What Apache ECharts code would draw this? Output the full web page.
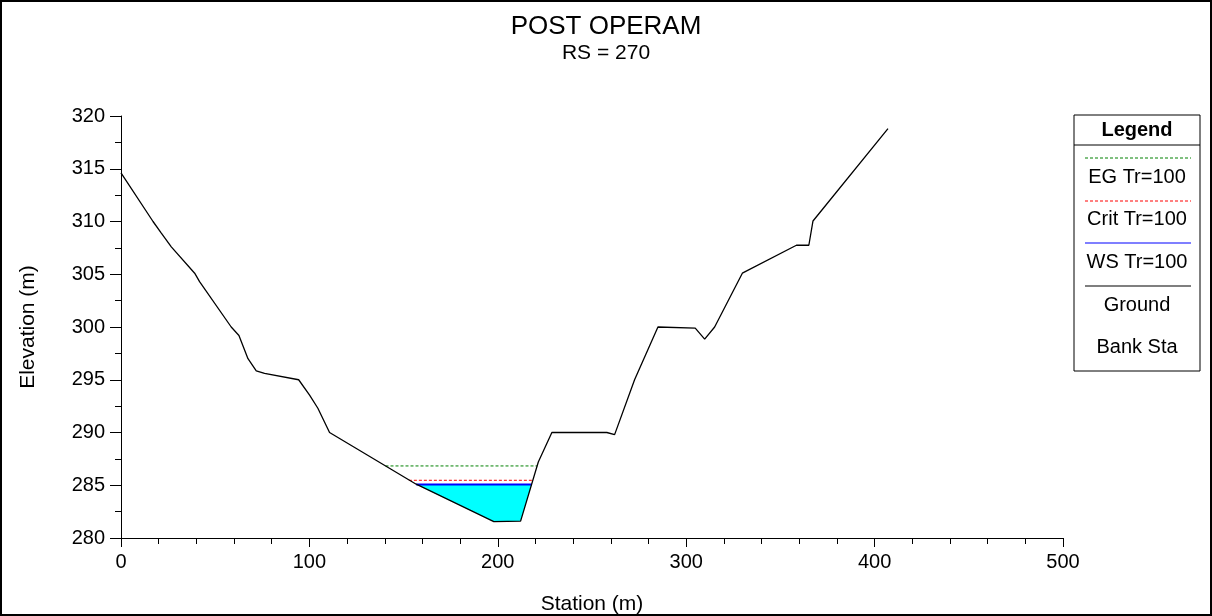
<!DOCTYPE html>
<html>
<head>
<meta charset="utf-8">
<script src="https://cdn.jsdelivr.net/npm/echarts@6/dist/echarts.min.js"></script>
<style>html,body{margin:0;padding:0;background:#fff}#c{width:1212px;height:616px}</style>
</head>
<body>
<div id="c"></div>
<script>
// Ground profile [station, elevation]
const groundStation = [0, 17, 21.4, 26.7, 39.1, 41.7, 58.5, 62.6, 67.4, 71.8, 76.2, 94.3, 100.1, 104.5, 110.7, 156.7, 197.9, 212.1, 221.5, 228.7, 257.9, 262.0, 272.6, 285.0, 304.8, 309.8, 315.1, 329.8, 358.5, 365.1, 367.3, 407.1];
const groundElev    = [314.6, 310.0, 308.9, 307.6, 305.1, 304.3, 300.0, 299.2, 297.0, 295.85, 295.6, 295.0, 293.55, 292.3, 290.0, 285.1, 281.55, 281.6, 287.2, 290.0, 290.0, 289.8, 295.0, 300.0, 299.9, 298.85, 300.0, 305.1, 307.75, 307.75, 310.05, 318.8];
// Water levels
const egLevel = 286.83, egStations = [140.4, 221.0];
const critLevel = 285.47, critStations = [152.8, 218.5];
const wsLevel = 285.06, wsStations = [156.7, 218.0];
// Wetted section (ground below WS)
const waterStation = [156.7, 197.9, 212.1, 218.0];
const waterElev    = [285.06, 281.55, 281.6, 285.06];

const xTicks = {min: 0, max: 500, interval: 100, minorSplit: 5};
const yTicks = {min: 280, max: 320, interval: 5, minorSplit: 2};

const legendItems = ['EG Tr=100', 'Crit Tr=100', 'WS Tr=100', 'Ground', 'Bank Sta'];

const zip = (a, b) => a.map((v, i) => [v, b[i]]);
const FONT = '"Liberation Sans", Arial, sans-serif';

const chart = echarts.init(document.getElementById('c'), null, {renderer: 'canvas'});
const legendLeft = 1074, legendRight = 1200;
const txt = (y, t, bold) => ({type: 'text', x: 1137, y: y, style: {text: t, font: (bold ? 'bold ' : '') + '20px ' + FONT, fill: '#000', align: 'center', verticalAlign: 'middle'}});
const legGraphics = [
  {type: 'rect', shape: {x: legendLeft, y: 115, width: legendRight - legendLeft, height: 256}, style: {fill: '#fff', stroke: '#000', lineWidth: 1}},
  txt(130, 'Legend', true),
  {type: 'line', shape: {x1: legendLeft, y1: 145, x2: legendRight, y2: 145}, style: {stroke: '#000', lineWidth: 1}},
  {type: 'line', shape: {x1: 1085, y1: 158, x2: 1191, y2: 158}, style: {stroke: '#008000', lineWidth: 1, lineDash: [3, 2]}},
  txt(177, legendItems[0]),
  {type: 'line', shape: {x1: 1085, y1: 201, x2: 1191, y2: 201}, style: {stroke: '#ff0000', lineWidth: 1, lineDash: [3, 2]}},
  txt(219, legendItems[1]),
  {type: 'line', shape: {x1: 1085, y1: 243, x2: 1191, y2: 243}, style: {stroke: '#0000ff', lineWidth: 1.2}},
  txt(262, legendItems[2]),
  {type: 'line', shape: {x1: 1085, y1: 286, x2: 1191, y2: 286}, style: {stroke: '#000', lineWidth: 1.2}},
  txt(305, legendItems[3]),
  txt(347, legendItems[4]),
  {type: 'rect', shape: {x: 1, y: 1, width: 1210, height: 614}, style: {fill: 'none', stroke: '#000', lineWidth: 2}}
];

chart.setOption({
  animation: false,
  backgroundColor: '#fff',
  title: [
    {text: 'POST OPERAM', left: 'center', top: 9, textStyle: {fontFamily: FONT, fontSize: 26, fontWeight: 'normal', color: '#000'}},
    {text: 'RS = 270', left: 'center', top: 38, textStyle: {fontFamily: FONT, fontSize: 21, fontWeight: 'normal', color: '#000'}}
  ],
  grid: {left: 121, right: 149, top: 116, bottom: 78, containLabel: false, outerBoundsMode: 'none'},
  xAxis: {
    type: 'value', min: xTicks.min, max: xTicks.max, interval: xTicks.interval,
    name: 'Station (m)', nameLocation: 'middle', nameGap: 56,
    nameTextStyle: {fontFamily: FONT, fontSize: 21, color: '#000'},
    axisLine: {show: true, onZero: false, lineStyle: {color: '#000', width: 1}},
    axisTick: {show: true, length: 9, lineStyle: {color: '#000'}},
    minorTick: {show: true, splitNumber: xTicks.minorSplit, length: 6, lineStyle: {color: '#000'}},
    axisLabel: {margin: 14, fontFamily: FONT, fontSize: 20, color: '#000'},
    splitLine: {show: false}
  },
  yAxis: {
    type: 'value', min: yTicks.min, max: yTicks.max, interval: yTicks.interval,
    name: 'Elevation (m)', nameLocation: 'middle', nameGap: 82, nameRotate: 90,
    nameTextStyle: {fontFamily: FONT, fontSize: 21, color: '#000'},
    axisLine: {show: true, onZero: false, lineStyle: {color: '#000', width: 1}},
    axisTick: {show: true, length: 11, lineStyle: {color: '#000'}},
    minorTick: {show: true, splitNumber: yTicks.minorSplit, length: 6, lineStyle: {color: '#000'}},
    axisLabel: {margin: 16, fontFamily: FONT, fontSize: 20, color: '#000'},
    splitLine: {show: false}
  },
  series: [
    {name: 'water', type: 'line', data: zip(waterStation, waterElev), symbol: 'none', silent: true,
     lineStyle: {width: 0}, areaStyle: {color: '#00ffff', opacity: 1, origin: wsLevel}, z: 1},
    {name: 'EG Tr=100', type: 'line', data: egStations.map(s => [s, egLevel]), symbol: 'none',
     lineStyle: {color: '#008000', width: 1, type: [3, 2]}, z: 3},
    {name: 'Crit Tr=100', type: 'line', data: critStations.map(s => [s, critLevel]), symbol: 'none',
     lineStyle: {color: '#ff0000', width: 1, type: [3, 2]}, z: 3},
    {name: 'WS Tr=100', type: 'line', data: wsStations.map(s => [s, wsLevel]), symbol: 'none',
     lineStyle: {color: '#0000ff', width: 2}, z: 3},
    {name: 'Ground', type: 'line', data: zip(groundStation, groundElev), symbol: 'none',
     lineStyle: {color: '#000', width: 1.3}, z: 4}
  ],
  graphic: legGraphics
});
</script>
</body>
</html>
